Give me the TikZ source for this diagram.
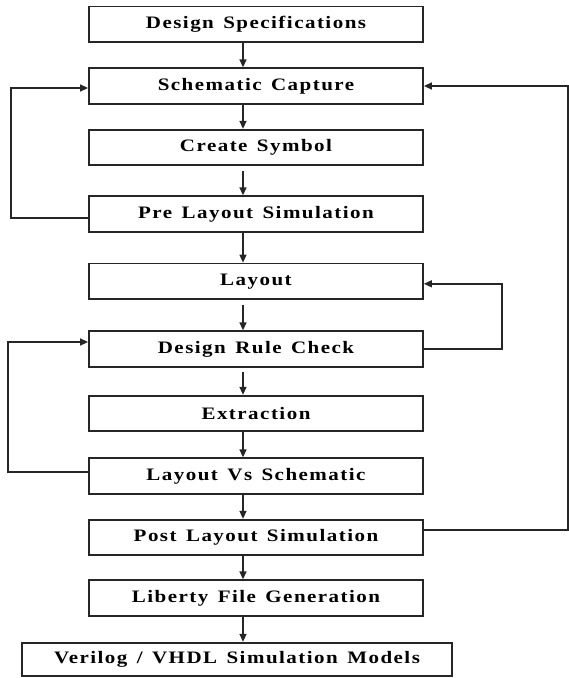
\documentclass[tikz,border=0pt]{standalone}
\usepackage{fontspec}
\usepackage{graphicx}
\setmainfont{Liberation Serif}[LetterSpace=7, WordSpace=1.4]
\usetikzlibrary{arrows.meta}

% widened bold labels
\newcommand{\stagetext}[1]{\scalebox{1.2}[1]{#1}}

\tikzset{
  stage/.style={draw=black!85, line width=1.8pt, fill=white,
    minimum width=334pt, minimum height=35.5pt, inner sep=0pt,
    font=\fontsize{17.5}{20}\selectfont\bfseries, text=black},
  flow/.style={draw=black!85, line width=1.4pt,
    -{Triangle[length=8pt,width=7pt]}},
  loop/.style={flow},
}

\begin{document}
\begin{tikzpicture}[x=1pt, y=-1pt]
  \useasboundingbox (0,0) rectangle (569,678);

  % flow stages
  \node[stage] (ds)   at (256,24.2)  {\stagetext{Design Specifications}};
  \node[stage] (sc)   at (256,86)    {\stagetext{Schematic Capture}};
  \node[stage] (cs)   at (256,147.5) {\stagetext{Create Symbol}};
  \node[stage] (pre)  at (256,214)   {\stagetext{Pre Layout Simulation}};
  \node[stage] (lay)  at (256,281.3) {\stagetext{Layout}};
  \node[stage] (drc)  at (256,349)   {\stagetext{Design Rule Check}};
  \node[stage] (ext)  at (256,413.5) {\stagetext{Extraction}};
  \node[stage] (lvs)  at (256,476)   {\stagetext{Layout Vs Schematic}};
  \node[stage] (post) at (256,537.5) {\stagetext{Post Layout Simulation}};
  \node[stage] (lib)  at (256,598)   {\stagetext{Liberty File Generation}};
  \node[stage, minimum width=430pt, minimum height=33.5pt] (ver) at (237,659.5)
    {\stagetext{Verilog / VHDL Simulation Models}};

  % vertical axis of the forward arrows
  \coordinate (ax) at (243,0);

  \draw[flow] (ds.south -| ax)   -- (sc.north -| ax);
  \draw[flow] (sc.south -| ax)   -- (cs.north -| ax);
  \draw[flow, shorten <=5pt] (cs.south -| ax) -- (pre.north -| ax);
  \draw[flow] (pre.south -| ax)  -- (lay.north -| ax);
  \draw[flow, shorten <=5pt] (lay.south -| ax) -- (drc.north -| ax);
  \draw[flow, shorten <=4pt] (drc.south -| ax) -- (ext.north -| ax);
  \draw[flow] (ext.south -| ax)  -- (lvs.north -| ax);
  \draw[flow] (lvs.south -| ax)  -- (post.north -| ax);
  \draw[flow] (post.south -| ax) -- (lib.north -| ax);
  \draw[flow] (lib.south -| ax)  -- (ver.north -| ax);

  % feedback loops
  \draw[loop] ([yshift=-4pt]pre.west) -- ++(-77,0) |- ([yshift=-2pt]sc.west);
  \draw[loop] (drc.east) -- ++(78,0) |- ([yshift=-2.5pt]lay.east);
  \draw[loop] ([yshift=4pt]lvs.west) -- ++(-80,0) |- ([yshift=7pt]drc.west);
  \draw[loop] ([yshift=7.5pt]post.east) -- ++(144,0) |- (sc.east);
\end{tikzpicture}
\end{document}
